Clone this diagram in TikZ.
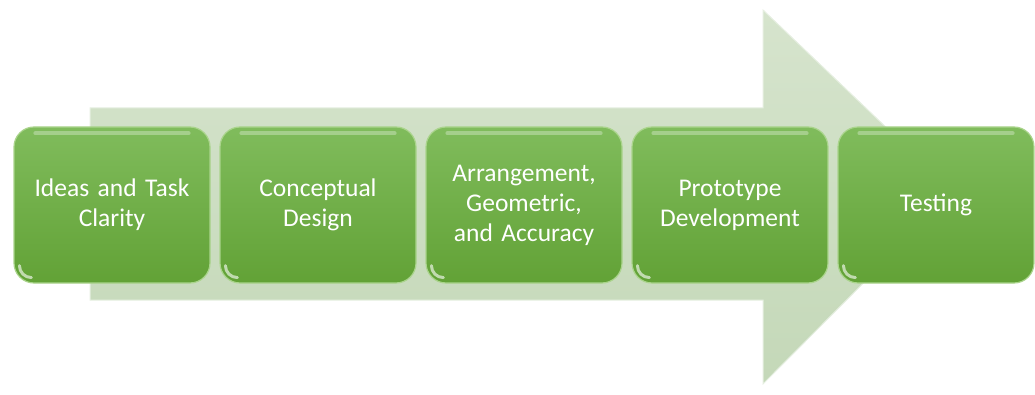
\documentclass[tikz,border=0pt]{standalone}
\usepackage{fontspec}
\setmainfont{Carlito}
\usetikzlibrary{calc,shapes}

\definecolor{fleche}{RGB}{214,228,205}
\definecolor{flechebas}{RGB}{196,216,184}
\definecolor{verthaut}{RGB}{128,188,92}
\definecolor{vertbas}{RGB}{98,162,54}
\definecolor{vertbord}{RGB}{170,212,140}

\tikzset{
  etape/.style={rectangle,rounded corners=20pt,minimum width=196pt,minimum height=156pt,
    top color=verthaut,bottom color=vertbas,draw=vertbord,line width=1.2pt,
    text=white,align=center,text width=190pt,inner sep=0pt,
    font=\fontsize{25.5}{30}\selectfont},
  reflet/.style={white,opacity=0.3,line width=4pt,line cap=round}
}

\begin{document}
\begin{tikzpicture}[x=1pt,y=1pt]
				\useasboundingbox (0,0) rectangle (1035,394);
				% Grande flèche
				\draw [top color=fleche,bottom color=flechebas,draw=white!40!fleche,line width=1pt]
				  (90,286) -- (763,286) -- (763,384) -- (954,202) -- (763,10) -- (763,94) -- (90,94) -- cycle;
				% Etapes
				\node [etape] (b1) at (112,189) {Ideas and Task\\Clarity};
				\node [etape] (b2) at (318,189) {Conceptual\\Design};
				\node [etape] (b3) at (524,189) {Arrangement,\\Geometric,\\and Accuracy};
				\node [etape] (b4) at (730,189) {Prototype\\Development};
				\node [etape] (b5) at (936,189) {Testing};
				% Reflets
				\foreach \b in {b1,b2,b3,b4,b5}{
				  \draw [reflet] ($(\b.north west)+(22,-7)$) -- ($(\b.north east)+(-22,-7)$);
				  \draw [white,opacity=0.6,line width=3pt,line cap=round]
				    ($(\b.south west)+(6,18)$) arc (180:270:12);
				}
				\end{tikzpicture}
\end{document}
